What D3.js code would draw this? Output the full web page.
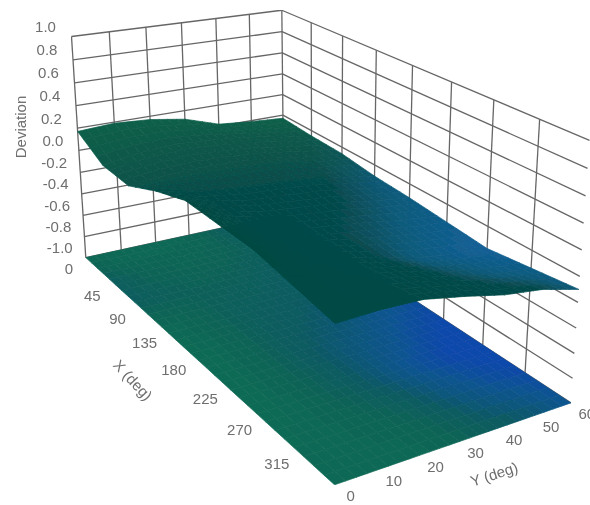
<!DOCTYPE html>
<html>
<head>
<meta charset="utf-8">
<script src="https://cdn.jsdelivr.net/npm/d3@7"></script>
<style>
  html, body { margin: 0; background: #fff; }
  text { font-family: "Liberation Sans", Arial, sans-serif; fill: #6e6e6e; font-size: 15px; }
</style>
</head>
<body>
<svg id="chart" width="590" height="505"></svg>
<script>
const xTicks = [0, 45, 90, 135, 180, 225, 270, 315, 360];
const yTicks = [0, 10, 20, 30, 40, 50, 60];
const zTicks = [-1, -0.8, -0.6, -0.4, -0.2, 0, 0.2, 0.4, 0.6, 0.8, 1];

// deviation, one row per X tick, one column per Y tick
const row0   = [0.17, 0.19, 0.17, 0.12, 0.02, -0.01, -0.03];
const row45  = [0.03, 0.08, 0.10, 0.08, 0.05, 0.00, -0.05];
const row90  = [0.02, 0.05, 0.06, 0.05, 0.02, -0.03, -0.06];
const row135 = [0.15, 0.08, 0.04, 0.02, 0.00, -0.05, -0.10];
const row180 = [0.25, 0.10, 0.03, 0.00, -0.03, -0.08, -0.12];
const row225 = [0.25, 0.10, 0.02, -0.03, -0.07, -0.12, -0.15];
const row270 = [0.25, 0.12, 0.04, -0.03, -0.11, -0.15, -0.18];
const row315 = [0.20, 0.14, 0.09, 0.03, -0.05, -0.11, -0.14];
const row360 = [0.15, 0.16, 0.15, 0.09, 0.02, -0.02, -0.10];
const deviation = [row0, row45, row90, row135, row180, row225, row270, row315, row360];

const svg = d3.select('#chart');
const xScale = d3.scaleLinear().domain([0, 360]).range([0, 1]);
const yScale = d3.scaleLinear().domain([0, 60]).range([0, 1]);
const zScale = d3.scaleLinear().domain([-1, 1]).range([0, 1]);

// where the corners of the box sit on the page, used to fit the camera
const anchors = [
  [[0, 0, 1], [72, 37]], [[0, 0, 0], [85, 257]],
  [[0, 1, 1], [281, 10]], [[0, 1, 0], [285, 215]],
  [[1, 1, 1], [590, 140]], [[1, 1, 0], [570, 403]],
  [[1, 0, 0], [335, 485]]
];

function solve(A, b) {
  const n = b.length;
  const M = A.map((r, i) => [...r, b[i]]);
  for (let c = 0; c < n; c++) {
    let p = c;
    for (let r = c + 1; r < n; r++) if (Math.abs(M[r][c]) > Math.abs(M[p][c])) p = r;
    [M[c], M[p]] = [M[p], M[c]];
    for (let r = 0; r < n; r++) {
      if (r === c) continue;
      const f = M[r][c] / M[c][c];
      for (let k = c; k <= n; k++) M[r][k] -= f * M[c][k];
    }
  }
  return M.map((r, i) => r[n] / r[i]);
}

// least squares fit of the 11 camera numbers
function fitCamera() {
  const rows = [], rhs = [];
  anchors.forEach(([[u, v, w], [px, py]]) => {
    const sx = px / 500, sy = py / 500;
    rows.push([u, v, w, 1, 0, 0, 0, 0, -sx * u, -sx * v, -sx * w]); rhs.push(sx);
    rows.push([0, 0, 0, 0, u, v, w, 1, -sy * u, -sy * v, -sy * w]); rhs.push(sy);
  });
  const AtA = d3.range(11).map(i => d3.range(11).map(j => d3.sum(rows, r => r[i] * r[j])));
  const Atb = d3.range(11).map(i => d3.sum(rows, (r, k) => r[i] * rhs[k]));
  return solve(AtA, Atb);
}
const cam = fitCamera();

function project(x, y, z) {
  const u = xScale(x), v = yScale(y), w = zScale(z);
  const d = cam[8] * u + cam[9] * v + cam[10] * w + 1;
  return [
    500 * (cam[0] * u + cam[1] * v + cam[2] * w + cam[3]) / d,
    500 * (cam[4] * u + cam[5] * v + cam[6] * w + cam[7]) / d
  ];
}

const line = d3.line();
svg.append('defs').append('filter').attr('id', 'soft')
  .attr('x', 0).attr('y', 0).attr('width', 1).attr('height', 1)
  .append('feGaussianBlur').attr('stdDeviation', 0.6);
const view = svg.append('g').attr('filter', 'url(#soft)');

// wall grid
const wall = view.append('g').attr('fill', 'none').attr('stroke', '#666').attr('stroke-width', 1.3);
const segs = [];
yTicks.forEach(y => segs.push([project(0, y, -1), project(0, y, 1)]));
xTicks.slice(1, -1).forEach(x => segs.push([project(x, 60, -1), project(x, 60, 1)]));
zTicks.forEach(z => {
  segs.push([project(0, 0, z), project(0, 60, z)]);
  segs.push([project(0, 60, z), project(360, 60, z)]);
});
wall.selectAll('path').data(segs).join('path').attr('d', line);

// colour follows the deviation; the sheet is greener near X = 0
const sheetZ = d3.scaleLinear().domain([-0.18, -0.1, -0.03, 0.25])
  .range(['#135f98', '#0e5a78', '#064a4c', '#064a42']);
const sheetX = d3.scaleLinear().domain([0, 150]).range([0, 1]).clamp(true);
const sheetColor = (v, x) => d3.interpolateRgb('#0b5f4a', sheetZ(v))(sheetX(x));
const floorColor = d3.scaleLinear().domain([-0.15, -0.1, -0.05, 0, 0.08, 0.2])
  .range(['#0b48aa', '#0a5490', '#08567c', '#085a62', '#0a6456', '#0c6a54']).clamp(true);

const sub = 4;
function cells(zAt, color) {
  const out = [];
  for (let i = 0; i < xTicks.length - 1; i++) {
    for (let j = 0; j < yTicks.length - 1; j++) {
      for (let a = 0; a < sub; a++) {
        for (let b = 0; b < sub; b++) {
          const fx = t => xTicks[i] + (xTicks[i + 1] - xTicks[i]) * t / sub;
          const fy = t => yTicks[j] + (yTicks[j + 1] - yTicks[j]) * t / sub;
          const val = (s, t) => {
            const p = s / sub, q = t / sub;
            return (1 - p) * (1 - q) * deviation[i][j] + p * (1 - q) * deviation[i + 1][j]
              + (1 - p) * q * deviation[i][j + 1] + p * q * deviation[i + 1][j + 1];
          };
          const c = [[a, b], [a + 1, b], [a + 1, b + 1], [a, b + 1]];
          out.push({
            d: line(c.map(([s, t]) => project(fx(s), fy(t), zAt(val(s, t))))) + 'Z',
            fill: color(val(a + 0.5, b + 0.5), fx(a + 0.5))
          });
        }
      }
    }
  }
  return out;
}

function drawSurface(data) {
  view.append('g').selectAll('path').data(data).join('path')
    .attr('d', d => d.d).attr('fill', d => d.fill).attr('stroke', d => d.fill).attr('stroke-width', 0.7);
}
drawSurface(cells(() => -1, floorColor));
drawSurface(cells(v => v, sheetColor));

// tick labels sit off the box edges
const labels = svg.append('g').attr('filter', 'url(#soft)');
function label(p, dx, dy, txt) {
  labels.append('text').attr('x', p[0] + dx).attr('y', p[1] + dy)
    .attr('text-anchor', 'middle').attr('dominant-baseline', 'central').text(txt);
}
zTicks.forEach(z => label(project(0, 0, z), -26, -10, z.toFixed(1)));
xTicks.slice(0, -1).forEach(x => label(project(x, 0, -1), -17, x === 0 ? 11 : 16, x));
yTicks.forEach(y => label(project(360, y, -1), 16, 11, y));

function axisTitle(x, y, angle, txt) {
  labels.append('text').attr('transform', `translate(${x},${y}) rotate(${angle})`)
    .attr('text-anchor', 'middle').attr('dominant-baseline', 'central').text(txt);
}
axisTitle(20, 127, -90, 'Deviation');
axisTitle(133, 380, 47, 'X (deg)');
axisTitle(494, 474, -18, 'Y (deg)');
</script>
</body>
</html>
